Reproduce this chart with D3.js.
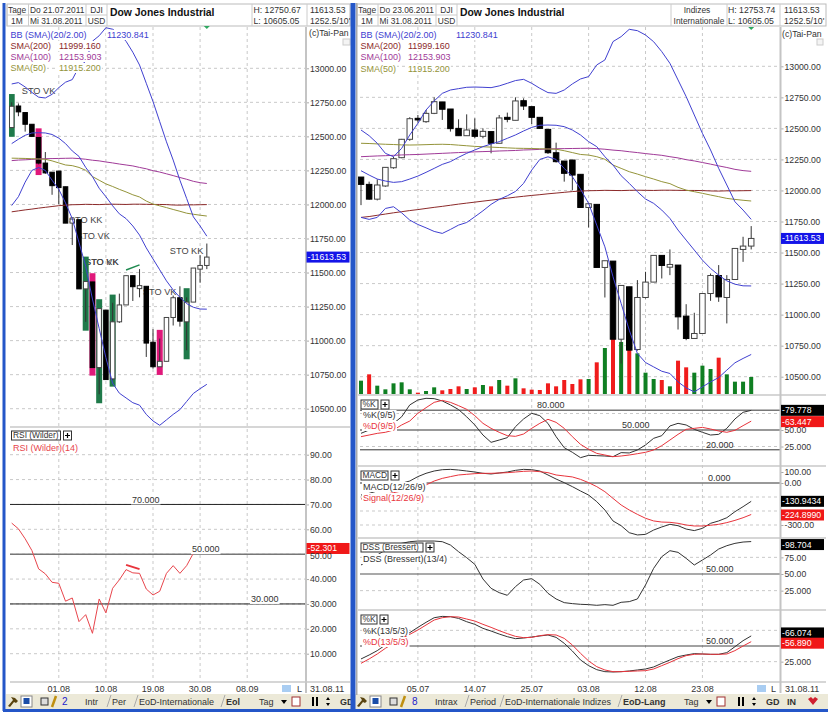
<!DOCTYPE html>
<html>
<head>
<meta charset="utf-8">
<script src="https://cdnjs.cloudflare.com/ajax/libs/d3/7.8.5/d3.min.js"></script>
<style>
html, body { margin: 0; padding: 0; background: #fff; }
svg { display: block; font-family: "Liberation Sans", Arial, sans-serif; font-size: 9px; fill: #333; }
.grid { stroke: #c9c9c9; stroke-dasharray: 3 3; fill: none; }
.axis path { display: none; }
.axis line { stroke: #aaa; }
.axis text { fill: #333; font-size: 8.7px; font-family: "Liberation Sans", Arial, sans-serif; }
.sep { stroke: #c8c8c8; stroke-width: 1.5; }
</style>
</head>
<body>
<svg id="chart" width="828" height="713"></svg>
<script>
// candle data, index 0 = 23.06.2011, index 48 = 31.08.2011
const candleOpen = [12108,12049,11930,12036,12183,12264,12412,12581,12554,12621,12713,12656,12500,12441,12487,12436,12474,12380,12589,12565,12723,12675,12589,12492,12304,12237,12245,12130,11863,11888,11380,11431,10802,11224,10719,11138,11262,11477,11382,11399,10988,10808,10848,11170,11315,11138,11283,11525,11552]
const candleClose = [12049,11930,12044,12186,12256,12412,12578,12568,12621,12715,12654,12498,12441,12487,12436,12476,12380,12584,12573,12721,12680,12589,12500,12304,12232,12138,12124,11863,11893,11380,11434,10802,11235,10714,11138,11262,11477,11396,11404,10982,10808,10848,11170,11315,11143,11283,11533,11552,11613.53]
const candleHigh = [12108,12071,12090,12186,12270,12415,12590,12608,12648,12750,12713,12656,12573,12613,12581,12500,12474,12608,12627,12750,12742,12675,12589,12492,12385,12237,12245,12130,11895,11888,11434,11431,11235,11224,11278,11345,11477,11477,11525,11399,11084,11015,11170,11331,11399,11318,11533,11627,11713]
const candleLow = [11882,11925,11920,12030,12175,12260,12400,12546,12545,12615,12568,12474,12441,12441,12420,12420,12299,12380,12549,12565,12648,12535,12495,12294,12225,12071,12003,11863,11702,11380,11138,10802,10606,10714,10710,11130,11262,11291,11318,10880,10794,10808,10848,11111,11103,10929,11283,11425,11525]
const volume = [40,59,25,14,32,35,14,4,9,20,11,15,23,15,20,27,23,42,25,47,17,13,12,32,23,42,30,44,45,95,138,165,156,132,122,64,45,42,23,100,80,64,85,75,109,59,37,37,51]
const volumeKind = 'grggggg rgg rrr g r g r g r g rrrrrrrr g r g r g r ggg r g rr ggg r gggg'.replace(/ /g, '').split('')

const bbUpper = [12487,12441,12380,12299,12272,12339,12447,12541,12648,12721,12782,12809,12820,12831,12833,12831,12828,12842,12863,12885,12895,12863,12823,12788,12782,12809,12858,12898,12917,13011,13051,13199,13239,13298,13287,13252,13198,13118,13024,12890,12756,12608,12460,12326,12178,12044,11909,11842,11767]
const bbMiddle = [12159,12124,12092,12076,12065,12071,12092,12116,12146,12178,12210,12232,12267,12299,12326,12353,12374,12393,12420,12447,12479,12508,12525,12527,12525,12514,12487,12447,12393,12353,12272,12205,12119,12057,11990,11931,11896,11842,11775,11681,11600,11520,11439,11372,11318,11272,11245,11232,11231]
const bbLower = [11783,11767,11783,11855,11869,11820,11761,11726,11699,11670,11654,11686,11721,11742,11788,11836,11888,11928,11957,11992,12057,12164,12250,12271,12250,12178,12111,12011,11896,11721,11546,11305,11090,10875,10687,10614,10579,10544,10526,10458,10410,10378,10418,10458,10493,10553,10612,10647,10679]
const sma200 = [11783,11790,11800,11810,11820,11829,11838,11846,11855,11864,11872,11881,11890,11898,11906,11914,11922,11930,11938,11946,11953,11960,11966,11973,11979,11985,11991,11995,11998,11999,12001,12000,11999,12001,12002,12001,12000,12002,12002,12001,12000,12000,11999,11996,11995,11997,11997,11998,11999]
const sma100 = [12272,12275,12278,12280,12283,12286,12288,12290,12293,12296,12299,12302,12305,12308,12311,12313,12315,12318,12320,12322,12326,12328,12331,12334,12336,12337,12338,12339,12340,12337,12332,12325,12320,12312,12305,12297,12290,12283,12272,12262,12248,12238,12225,12212,12198,12185,12170,12160,12154]
const sma50 = [12380,12378,12375,12372,12370,12367,12366,12367,12369,12371,12372,12370,12365,12360,12355,12352,12349,12346,12343,12340,12339,12338,12336,12334,12332,12320,12305,12290,12285,12272,12251,12205,12178,12151,12132,12111,12092,12071,12055,12025,12003,11990,11977,11963,11950,11936,11928,11921,11915]

const stochK = [45,50,52.5,55,60,70,88,95.5,98,97.5,94,88,81,70,57.6,42.4,31.3,34.8,38.4,55,66.7,75.3,71.7,60,39.9,23.2,16.2,8.1,11.6,11.1,10.6,9.6,15.7,15.2,19.7,27.3,37.4,41.4,56.1,60.1,57.6,51,46.5,42.4,43.4,52.5,66.7,76.8,79.8]
const stochD = [39.9,42.4,44.9,46.5,50,57.6,63.6,75.3,83.8,91.9,94.9,91.9,86.9,81.3,71.7,60.1,52.5,46.5,41.4,40.4,43.9,52.5,60.1,66.2,61.6,52.5,39.9,28.3,20.7,14.6,12.1,9.6,10.6,12.1,14.1,16.2,19.7,26.3,34.8,43.4,51,52.5,54,51.5,48.5,46.5,49.5,56.6,63.4]
const macd = [-86,-74,-57,-38,-19,-2,18,58,88,109,121,124,118,109,100,88,82,91,100,115,124,121,109,73,36,3,-26,-57,-86,-133,-193,-271,-305,-355,-371,-367,-336,-314,-295,-305,-329,-340,-324,-288,-271,-248,-205,-169,-131]
const macdSignal = [-114,-105,-93,-81,-69,-57,-45,-33,-14,18,42,58,73,79,85,88,88,91,94,100,106,109,103,94,73,64,55,33,3,-26,-62,-110,-157,-193,-224,-252,-271,-279,-281,-288,-300,-307,-307,-302,-295,-283,-267,-248,-225]
const dss = [63.5,71,78.5,86,91,96,98.5,99.5,99.5,99.5,98.5,93.5,83.5,74.5,64.5,42.5,28.5,22,18,31,41,43,34.5,21,12.5,7,5.5,4.5,4,3,4,3,7.5,8.5,12.5,33.5,58.5,76,85,82.5,73.5,63.5,71,78.5,87.5,92.5,96,98,98.7]
const slowK = [29.3,35.6,42.6,51.6,58.5,64.9,71.3,79.8,87.8,95.2,97.3,96.8,94.1,88.8,84.6,78.2,73.9,69.1,64.9,61.7,62.8,64.4,66,67.6,63.8,54.3,42,27.7,18.6,12.2,9,8.5,9,10.1,11.7,13.3,16.5,22.3,27.7,33,35.6,37.8,37.2,36.7,36.7,39.4,48.9,58.5,66.1]
const slowD = [22.3,29.3,37.2,46.3,54.3,62.2,68.6,75.5,83.5,91.5,95.2,96.8,96.3,93.1,89.9,84.6,79.8,74.5,69.7,65.4,63.3,63.8,66.5,68.1,67.6,62.2,51.6,38.3,26.1,17,11.7,9,9,9.6,10.1,10.6,13.3,18.6,23.9,29.8,34.6,36.7,37.2,36.7,36.7,37.2,42.6,50,56.9]

// left chart only starts at index 19
const LEFT_START = 19
const rsi = [62.5,60.2,56.2,51.5,44.1,42.1,38.7,38.3,31.1,32.4,22.9,25.7,18.2,32,26.4,36.3,39.7,43.8,42.5,42.3,36,33.6,35.1,42.3,45.4,42.3,45.4,50.4,51.2,52.3]

const priceTicks = [13000,12750,12500,12250,12000,11750,11500,11250,11000,10750,10500]
const rsiTicks = [90,80,70,60,50,40,30,20,10]
const rsiTickLabels = ['90.00','80.00','70.00','60.00','50.00','40.000','30.000','20.000','10.000']
const rightDateIdx = [7,14,21,28,35,42]
const rightDates = ['05.07','14.07','25.07','03.08','12.08','23.08']
const leftDateIdx = [26,33,40,47,54]
const leftDates = ['01.08','10.08','19.08','30.08','08.09']

// signal boxes drawn behind the candles of the left chart: index, high, low, kind
const signalIdx = [19,23,30,31,32,34,41,45]
const signalTop = [12811,12559,11617,11495,11304,11338,11079,11385]
const signalBottom = [12497,12216,11073,10743,10540,10662,10748,10863]
const signalKind = ['g','p','g','p','g','g','p','g']
const signalLabelIdx = [20.5,27.5,28.6,29.9,29.9,38.5,42.5]
const signalLabelValue = [12836,11886,11771,11578,11578,11355,11661]
const signalLabelText = ['STO VK','STO KK','STO VK','STO VK','STO KK','STO VK','STO KK']

const BLUE = '#4040d0', DARKRED = '#8c2a2a', PURPLE = '#a03a98', OLIVE = '#94943a', RED = '#e8343c', BLACK = '#333'
const SMA_COLORS = [DARKRED, PURPLE, OLIVE]

const svg = d3.select('#chart')

function text(g, x, y, str, opts = {}) {
	return g.append('text')
		.attr('x', x).attr('y', y).attr('dy', '0.34em')
		.attr('text-anchor', opts.anchor || 'start')
		.style('fill', opts.color || '#333')
		.style('font-size', (opts.size || 9) + 'px')
		.style('font-weight', opts.bold ? 'bold' : null)
		.text(str)
}

// text on a white patch, so the lines below it get masked like in the reference
function maskedText(g, x, y, str, color) {
	const t = text(g, x, y, str, { color })
	const w = t.node().getComputedTextLength()
	g.insert('rect', () => t.node()).attr('x', x - 1).attr('y', y - 5).attr('width', w + 2).attr('height', 10).attr('fill', '#fff')
	return t
}

function drawGrid(g, x, xTicks, yTop, yBottom) {
	g.selectAll(null).data(xTicks).join('line').attr('class', 'grid')
		.attr('x1', d => x(d)).attr('x2', d => x(d)).attr('y1', yTop).attr('y2', yBottom)
}

function hGrid(g, y, ticks, x0, x1) {
	g.selectAll(null).data(ticks).join('line').attr('class', 'grid')
		.attr('x1', x0).attr('x2', x1).attr('y1', d => y(d)).attr('y2', d => y(d))
}

function rightAxis(g, y, ticks, labels, xPos) {
	const axis = d3.axisRight(y).tickValues(ticks).tickSize(3).tickPadding(1)
		.tickFormat((d, i) => labels[i])
	g.append('g').attr('class', 'axis').attr('transform', `translate(${xPos},0)`).call(axis)
}

function drawCandles(g, x, y, start, w) {
	const idx = d3.range(start, candleOpen.length)
	g.selectAll(null).data(idx).join('line')
		.attr('x1', d => x(d)).attr('x2', d => x(d))
		.attr('y1', d => y(candleHigh[d])).attr('y2', d => y(candleLow[d]))
		.attr('stroke', '#333')
	g.selectAll(null).data(idx).join('rect')
		.attr('x', d => x(d) - w / 2)
		.attr('y', d => y(Math.max(candleOpen[d], candleClose[d])))
		.attr('width', w)
		.attr('height', d => Math.max(1.5, Math.abs(y(candleOpen[d]) - y(candleClose[d]))))
		.attr('fill', d => candleClose[d] >= candleOpen[d] ? '#fff' : '#000')
		.attr('stroke', d => candleClose[d] >= candleOpen[d] ? '#444' : '#000')
}

function drawLine(g, x, y, values, start, color, width = 1) {
	const line = d3.line().x((d, i) => x(i + start)).y(d => y(d))
	g.append('path').attr('d', line(values)).attr('fill', 'none')
		.attr('stroke', color).attr('stroke-width', width)
}

function levelLine(g, y, value, label, labelX, x0, x1, color, width) {
	g.append('line').attr('x1', x0).attr('x2', x1).attr('y1', y(value)).attr('y2', y(value))
		.attr('stroke', color).attr('stroke-width', width)
	maskedText(g, labelX, y(value) - 5, label, '#333')
}

function tag(g, x, y, str, color, w = 43) {
	g.append('rect').attr('x', x).attr('y', y - 5.5).attr('width', w).attr('height', 11).attr('fill', color)
	text(g, x + 1, y, str, { color: '#fff', size: 8.7 })
}

function panelBox(g, x, y, w, str) {
	g.append('rect').attr('x', x).attr('y', y).attr('width', w).attr('height', 9).attr('fill', '#fff').attr('stroke', '#333')
	text(g, x + 1.5, y + 4.5, str, { size: 8.4 })
	g.append('rect').attr('x', x + w + 3).attr('y', y).attr('width', 8).attr('height', 9).attr('fill', '#fff').attr('stroke', '#333')
	g.append('path').attr('d', `M${x + w + 4.5},${y + 4.5}h5M${x + w + 7},${y + 2}v5`).attr('stroke', '#000').attr('stroke-width', 1.2)
}

function header(g, o) {
	const { cells, date, titleX, right } = o
	g.append('rect').attr('x', cells[0]).attr('y', 4).attr('width', right - cells[0]).attr('height', 22)
		.attr('fill', '#fff').attr('stroke', '#bbb')
	cells.forEach(c => g.append('line').attr('x1', c).attr('x2', c).attr('y1', 4).attr('y2', 26).attr('stroke', '#ccc'))
	g.append('line').attr('x1', cells[0]).attr('x2', cells[3]).attr('y1', 15).attr('y2', 15).attr('stroke', '#ccc')
	text(g, cells[0] + 1, 10, 'Tage', { size: 8.4 })
	text(g, cells[0] + 4, 21, '1M', { size: 8.4 })
	text(g, cells[1] + 1.5, 10, date, { size: 8.4 })
	text(g, cells[1] + 1.5, 21, 'Mi 31.08.2011', { size: 8.4 })
	text(g, (cells[2] + cells[3]) / 2, 10, 'DJI', { anchor: 'middle', size: 8.4 })
	text(g, (cells[2] + cells[3]) / 2, 21, 'USD', { anchor: 'middle', size: 8.4 })
	text(g, titleX, 12.5, 'Dow Jones Industrial', { bold: true, size: 10.4, color: '#111' })
}

function legend(g, x0, x1, x2, ys) {
	const names = ['SMA(200)', 'SMA(100)', 'SMA(50)']
	const vals = ['11999.160', '12153.903', '11915.200']
	maskedText(g, x0, ys[0], 'BB (SMA)(20/2.00)', BLUE)
	maskedText(g, x2, ys[0], '11230.841', BLUE)
	names.forEach((n, i) => {
		maskedText(g, x0, ys[i + 1], n, SMA_COLORS[i])
		maskedText(g, x1, ys[i + 1], vals[i], SMA_COLORS[i])
	})
}

function overlays(g, x, y, start) {
	const cut = a => a.slice(start)
	drawLine(g, x, y, cut(sma200), start, DARKRED)
	drawLine(g, x, y, cut(sma100), start, PURPLE)
	drawLine(g, x, y, cut(sma50), start, OLIVE)
	drawLine(g, x, y, cut(bbUpper), start, BLUE)
	drawLine(g, x, y, cut(bbMiddle), start, BLUE)
	drawLine(g, x, y, cut(bbLower), start, BLUE)
}

function tabBar(g, x0, x1, items) {
	g.append('rect').attr('x', x0).attr('y', 694).attr('width', x1 - x0).attr('height', 15).attr('fill', '#ece9d8')
	items.forEach(d => {
		text(g, d.x, 701.5, d.t, { bold: d.bold, color: d.c || '#333', size: d.s || 9 })
		if (d.slash) g.append('path').attr('d', `M${d.x - 5},707L${d.x - 1},695`).attr('stroke', '#aaa').attr('fill', 'none')
	})
}

function toolIcons(g, x) {
	// hammer, pin, calendar, pencil
	g.append('path').attr('d', `M${x},706l5,-6l-2,-3l4,1l3,3l-2,2l-2,-1l-4,5z`).attr('fill', '#5a4410')
	g.append('rect').attr('x', x + 13).attr('y', 696).attr('width', 11).attr('height', 11).attr('fill', '#fff').attr('stroke', '#888')
	g.append('rect').attr('x', x + 15.5).attr('y', 698).attr('width', 6).attr('height', 6).attr('fill', '#1b4da8')
	g.append('rect').attr('x', x + 33).attr('y', 698).attr('width', 7).attr('height', 7).attr('fill', '#ddd').attr('stroke', '#333')
	g.append('path').attr('d', `M${x + 44},707l4,-11`).attr('stroke', '#c09010').attr('stroke-width', 2.5)
}

function controls(g, xTag, xRest) {
	text(g, xTag, 702, 'Tag')
	g.append('path').attr('d', `M${xTag + 22},700h6l-3,4z`).attr('fill', '#000')
	g.append('rect').attr('x', xTag + 33).attr('y', 697).attr('width', 8).attr('height', 9).attr('fill', '#fff').attr('stroke', '#a03030')
	g.append('path').attr('d', `M${xRest},697v9M${xRest + 4},697v9`).attr('stroke', '#000').attr('stroke-width', 2)
	g.append('path').attr('d', `M${xRest + 13},700l2,-3l2,3zM${xRest + 13},703l2,3l2,-3z`).attr('fill', '#000')
}

// ---------- left chart ----------
const left = svg.append('g')
const xL = d3.scaleLinear().domain([19, 54]).range([11.7, 247.2])
const yL = d3.scaleLinear().domain([10500, 13000]).range([408.7, 68.3])
const yRsi = d3.scaleLinear().domain([10, 90]).range([653.7, 454.7])

svg.append('defs').append('clipPath').attr('id', 'clipL').append('rect').attr('x', 9).attr('y', 27).attr('width', 297).attr('height', 400)
svg.select('defs').append('clipPath').attr('id', 'clipR').append('rect').attr('x', 358).attr('y', 27).attr('width', 422).attr('height', 368)

drawGrid(left, xL, leftDateIdx, 27, 682)
hGrid(left, yL, priceTicks, 10, 306)
hGrid(left, yRsi, rsiTicks, 10, 306)

const leftPlot = left.append('g').attr('clip-path', 'url(#clipL)')
signalLabelText.forEach((t, i) => text(leftPlot, xL(signalLabelIdx[i]), yL(signalLabelValue[i]), t, { size: 9.2, color: '#444' }))
leftPlot.selectAll(null).data(signalIdx).join('rect')
	.attr('x', d => xL(d) - 3).attr('width', 6)
	.attr('y', (d, i) => yL(signalTop[i]))
	.attr('height', (d, i) => yL(signalBottom[i]) - yL(signalTop[i]))
	.attr('fill', (d, i) => signalKind[i] === 'g' ? '#1f7a4a' : '#e0187a')
drawCandles(leftPlot, xL, yL, LEFT_START, 4.5)
overlays(leftPlot, xL, yL, LEFT_START)
leftPlot.append('path').attr('d', d3.line().x(d => xL(d[0])).y(d => yL(d[1]))([[36, 11519], [38, 11556]]))
	.attr('stroke', '#1f8a50').attr('stroke-width', 1.5).attr('fill', 'none')
legend(left, 10.5, 59, 107, [35, 46, 57, 68])

left.append('line').attr('x1', 10).attr('x2', 350).attr('y1', 427).attr('y2', 427).attr('class', 'sep')
levelLine(left, yRsi, 70, '70.000', 132, 10, 306, '#222', 1)
levelLine(left, yRsi, 30, '30.000', 251, 10, 306, '#222', 1)
left.append('line').attr('x1', 10).attr('x2', 306).attr('y1', yRsi(50)).attr('y2', yRsi(50)).attr('stroke', '#777').attr('stroke-width', 1.6)
drawLine(left, xL, yRsi, rsi, LEFT_START, '#e8454c')
maskedText(left, 192, yRsi(50) - 5, '50.000', '#333')
left.append('path').attr('d', d3.line().x(d => xL(d[0])).y(d => yRsi(d[1]))([[36, 45.7], [38, 44]]))
	.attr('stroke', RED).attr('stroke-width', 2).attr('fill', 'none')
panelBox(left, 11.5, 431, 49, 'RSI (Wilder)')
text(left, 13, 447.5, 'RSI (Wilder)(14)', { color: '#e8454c' })

rightAxis(left, yL, priceTicks, priceTicks.map(d => d.toFixed(2)), 306)
rightAxis(left, yRsi, rsiTicks.filter(d => d !== 50), rsiTickLabels.filter(d => d !== '50.00'), 306)
left.append('line').attr('x1', 306).attr('x2', 306).attr('y1', 27).attr('y2', 693).attr('stroke', '#c4c4c4').attr('stroke-width', 2)
left.append('line').attr('x1', 10).attr('x2', 350).attr('y1', 682).attr('y2', 682).attr('class', 'sep')

tag(left, 306.5, yL(candleClose[48]), '-11613.53', '#1414e8')
tag(left, 306.5, yRsi(rsi[29]), '-52.301', '#f01818')
text(left, 310, 556.5, '50.00', { size: 8.7 })
header(left, { cells: [7, 28.5, 86, 107, 252, 307], date: 'Do 21.07.2011', titleX: 110, right: 350 })
text(left, 253.5, 10, 'H: 12750.67', { size: 8.7 })
text(left, 253.5, 21, 'L: 10605.05', { size: 8.7 })
text(left, 310, 10, '11613.53', { size: 8.7 })
text(left, 310, 21, '1252.5/10\'', { size: 8.7 })
text(left, 309, 33, '(c)Tai-Pan', { size: 8.7 })
left.append('rect').attr('x', 343).attr('y', 39).attr('width', 7).attr('height', 6).attr('fill', '#f4f4f4').attr('stroke', '#ccc')
left.append('path').attr('d', `M${xL(48) - 3},26h6l-3,3z`).attr('fill', '#2fa860')

leftDates.forEach((t, i) => text(left, xL(leftDateIdx[i]), 689, t, { anchor: 'middle' }))
left.append('rect').attr('x', 282).attr('y', 685).attr('width', 9).attr('height', 7).attr('fill', '#a9cdf2')
text(left, 297, 688.5, 'L')
text(left, 310, 689, '31.08.11')
tabBar(left, 6, 351, [
	{ x: 62, t: '2', c: '#2222cc', s: 10 },
	{ x: 85, t: 'Intr' }, { x: 112, t: 'Per', slash: true },
	{ x: 139, t: 'EoD-Internationale', slash: true },
	{ x: 226, t: 'Eol', bold: true, slash: true },
	{ x: 340, t: 'GD', bold: true }
])
toolIcons(left, 8)
controls(left, 259, 313)

// ---------- right chart ----------
const right = svg.append('g')
const xR = d3.scaleLinear().domain([0, 48]).range([361, 751.2])
const yR = d3.scaleLinear().domain([10500, 13000]).range([376.7, 66.3])
const yVol = d3.scaleLinear().domain([0, 165]).range([394, 339])
const yK = d3.scaleLinear().domain([0, 100]).range([463, 397])
const yMacd = d3.scaleLinear().domain([-300, 0, 100]).range([525, 483, 472])
const yDss = d3.scaleLinear().domain([0, 100]).range([607.3, 540.7])
const ySlow = d3.scaleLinear().domain([0, 100]).range([677.3, 614.7])

drawGrid(right, xR, rightDateIdx, 27, 682)
hGrid(right, yR, priceTicks, 360, 780)
hGrid(right, yK, [75, 25], 360, 780)
hGrid(right, yMacd, [-100, -200, -300], 360, 780)
hGrid(right, yDss, [75, 25], 360, 780)
hGrid(right, ySlow, [75, 25], 360, 780)

const rightPlot = right.append('g').attr('clip-path', 'url(#clipR)')
rightPlot.selectAll(null).data(volume).join('rect')
	.attr('x', (d, i) => xR(i) - 2).attr('width', 4)
	.attr('y', d => yVol(d))
	.attr('height', d => yVol(0) - yVol(d))
	.attr('fill', (d, i) => volumeKind[i] === 'g' ? '#0f7f22' : '#f01c1c')
drawCandles(rightPlot, xR, yR, 0, 5.5)
overlays(rightPlot, xR, yR, 0)
legend(right, 360.5, 408, 456, [35, 46, 57, 69])

;[395, 466, 538, 610, 682].forEach(y =>
	right.append('line').attr('x1', 358).attr('x2', 826).attr('y1', y).attr('y2', y).attr('class', 'sep'))

// %K(9/5)
right.append('line').attr('x1', 360).attr('x2', 780).attr('y1', yK(80)).attr('y2', yK(80)).attr('stroke', '#777').attr('stroke-width', 1.5)
right.append('line').attr('x1', 360).attr('x2', 780).attr('y1', yK(50)).attr('y2', yK(50)).attr('stroke', '#777').attr('stroke-width', 1.5)
right.append('line').attr('x1', 360).attr('x2', 780).attr('y1', yK(20)).attr('y2', yK(20)).attr('stroke', '#333')
drawLine(right, xR, yK, stochK, 0, BLACK)
drawLine(right, xR, yK, stochD, 0, RED)
text(right, 537, yK(80) - 5, '80.000')
text(right, 622, yK(50) - 5, '50.000')
text(right, 706, yK(20) - 5, '20.000')
panelBox(right, 361, 400, 17, '%K')
maskedText(right, 363, 415, '%K(9/5)', '#333')
maskedText(right, 363, 426, '%D(9/5)', RED)

// MACD
right.append('line').attr('x1', 360).attr('x2', 780).attr('y1', yMacd(0)).attr('y2', yMacd(0)).attr('stroke', '#777').attr('stroke-width', 1.5)
drawLine(right, xR, yMacd, macd, 0, BLACK)
drawLine(right, xR, yMacd, macdSignal, 0, RED)
text(right, 708, yMacd(0) - 5, '0.000')
panelBox(right, 361, 471, 27, 'MACD')
maskedText(right, 363, 487, 'MACD(12/26/9)', '#333')
maskedText(right, 363, 498, 'Signal(12/26/9)', RED)

// DSS
right.append('line').attr('x1', 360).attr('x2', 780).attr('y1', yDss(50)).attr('y2', yDss(50)).attr('stroke', '#555').attr('stroke-width', 1.2)
drawLine(right, xR, yDss, dss, 0, BLACK)
text(right, 706, yDss(50) - 5, '50.000')
panelBox(right, 361, 543, 62, 'DSS (Bressert)')
maskedText(right, 363, 559, 'DSS (Bressert)(13/4)', '#333')

// %K(13/5/3)
right.append('line').attr('x1', 360).attr('x2', 780).attr('y1', ySlow(50)).attr('y2', ySlow(50)).attr('stroke', '#444')
drawLine(right, xR, ySlow, slowK, 0, BLACK)
drawLine(right, xR, ySlow, slowD, 0, RED)
text(right, 706, ySlow(50) - 5, '50.000')
panelBox(right, 361, 615, 16, '%K')
maskedText(right, 363, 631, '%K(13/5/3)', '#333')
maskedText(right, 363, 642, '%D(13/5/3)', RED)

rightAxis(right, yR, priceTicks, priceTicks.map(d => d.toFixed(2)), 780.5)
rightAxis(right, yK, [50, 25], ['50.00', '25.000'], 780.5)
rightAxis(right, yMacd, [100, 0, -300], ['100.00', '0.00', '-300.00'], 780.5)
rightAxis(right, yDss, [75, 50, 25], ['75.00', '50.00', '25.000'], 780.5)
rightAxis(right, ySlow, [25], ['25.000'], 780.5)
right.append('line').attr('x1', 780.5).attr('x2', 780.5).attr('y1', 27).attr('y2', 693).attr('stroke', '#c4c4c4').attr('stroke-width', 2)

tag(right, 781, yR(candleClose[48]), '-11613.53', '#1414e8')
tag(right, 781, yK(79.778), '-79.778', '#000')
tag(right, 781, yK(63.447) + 0.5, '-63.447', '#f01818')
tag(right, 781, yMacd(-130.9434), '-130.9434', '#000')
tag(right, 781, yMacd(-224.899) + 0.5, '-224.8990', '#f01818')
tag(right, 781, yDss(98.704) + 3, '-98.704', '#000')
tag(right, 781, ySlow(66.074) - 3, '-66.074', '#000')
tag(right, 781, ySlow(56.89) + 1.5, '-56.890', '#f01818')

header(right, { cells: [357, 378, 436, 457, 671, 727, 780], date: 'Do 23.06.2011', titleX: 460, right: 826 })
text(right, 697, 10, 'Indizes', { anchor: 'middle', size: 8.4 })
text(right, 699, 21, 'Internationale', { anchor: 'middle', size: 8.4 })
text(right, 728, 10, 'H: 12753.74', { size: 8.7 })
text(right, 728, 21, 'L: 10605.05', { size: 8.7 })
text(right, 784, 10, '11613.53', { size: 8.7 })
text(right, 784, 21, '1252.5/10\'', { size: 8.7 })
text(right, 782, 34, '(c)Tai-Pan', { size: 8.7 })
right.append('rect').attr('x', 817).attr('y', 39).attr('width', 6).attr('height', 6).attr('fill', '#f4f4f4').attr('stroke', '#ccc')
right.append('path').attr('d', `M${xR(48) - 3},27h6l-3,3z`).attr('fill', '#2fa860')

rightDates.forEach((t, i) => text(right, xR(rightDateIdx[i]), 688.5, t, { anchor: 'middle' }))
right.append('rect').attr('x', 757).attr('y', 685).attr('width', 9).attr('height', 7).attr('fill', '#a9cdf2')
text(right, 771, 688.5, 'L')
text(right, 785, 689, '31.08.11')
tabBar(right, 355, 828, [
	{ x: 412, t: '8', c: '#2222cc', s: 10 },
	{ x: 435, t: 'Intrax' }, { x: 470, t: 'Period', slash: true },
	{ x: 505, t: 'EoD-Internationale Indizes', slash: true },
	{ x: 623, t: 'EoD-Lang', bold: true, slash: true },
	{ x: 766, t: 'GD', bold: true }, { x: 787, t: 'IN', bold: true }
])
toolIcons(right, 357)
controls(right, 684, 739)
right.append('path').attr('d', 'M808,699l3,-2l2,2l2,-2l3,2l-5,6z').attr('fill', '#d02030')

// window frame
const frame = svg.append('g').attr('fill', '#2456c8')
frame.append('rect').attr('x', 2.5).attr('y', 3).attr('width', 3).attr('height', 708)
frame.append('rect').attr('x', 350.5).attr('y', 3).attr('width', 5).attr('height', 708)
frame.append('rect').attr('x', 3).attr('y', 709).attr('width', 825).attr('height', 3)
frame.append('rect').attr('x', 356).attr('y', 3).attr('width', 1.5).attr('height', 692).attr('fill', '#aaa')
</script>
</body>
</html>
